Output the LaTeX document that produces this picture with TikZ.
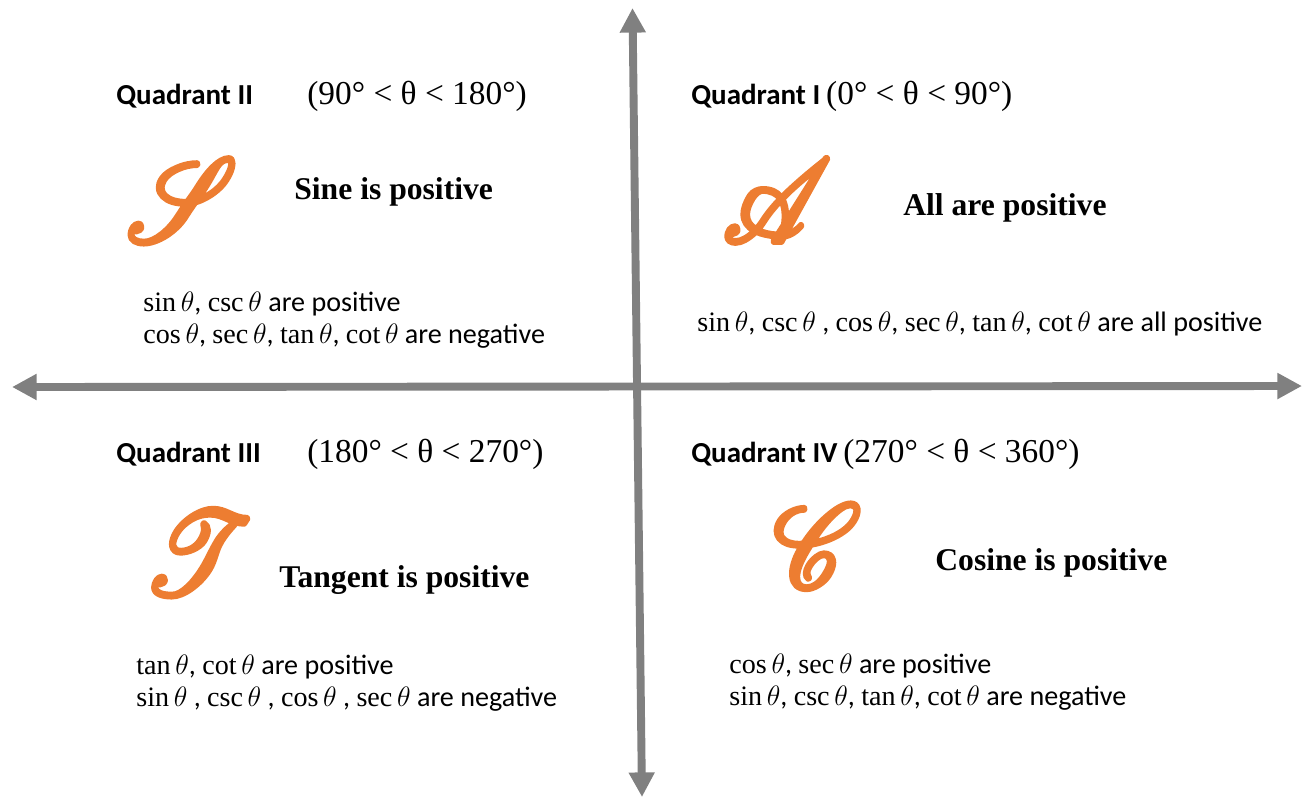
\RequirePackage{fix-cm}
\documentclass[tikz,border=0pt]{standalone}
\usepackage{graphicx}
\usepackage{fontspec}
\usepackage{mathrsfs}
\setmainfont{Liberation Serif}
\newfontfamily\calibri{Carlito}
\usetikzlibrary{arrows.meta,positioning}
\definecolor{axisgray}{RGB}{128,128,128}
\definecolor{letterorange}{RGB}{237,125,49}
% heavy swash capital: stroked as well as filled
\newcommand{\swash}[1]{\scalebox{2.4}[2.7]{\special{pdf:literal direct 2 Tr 1.1 w 1 j}$\mathscr{#1}$\special{pdf:literal direct 0 Tr}}}

\begin{document}
\begin{tikzpicture}[x=0.02cm, y=-0.02cm, >={Triangle[width=14pt,length=14pt]},
    quadtitle/.style={anchor=base west, inner sep=0pt, font=\calibri\bfseries\fontsize{16.5}{19}\selectfont},
    anglerange/.style={anchor=base west, inner sep=0pt, font=\fontsize{19}{23}\selectfont},
    bigletter/.style={text=letterorange, inner sep=0pt, font=\fontsize{24.88}{30}\selectfont},
    signrule/.style={anchor=base west, inner sep=0pt, font=\bfseries\fontsize{18}{22}\selectfont},
    fnline/.style={anchor=base west, inner sep=0pt, font=\calibri\fontsize{16}{19}\selectfont}]
    \useasboundingbox (0,0) rectangle (1303,799);

    % Axes
    \coordinate (west) at (12,387);
    \coordinate (east) at (1302,386);
    \coordinate (north) at (632.5,8);
    \coordinate (south) at (642,797);
    \draw[<->, axisgray, line width=4.5pt] (west) -- (east);
    \draw[<->, axisgray, line width=4.5pt] (north) -- (south);

    % Quadrant II
    \node (q2title) [quadtitle] at (116,104) {Quadrant II};
    \node (q2range) [anglerange] at (307,104) {(90° < θ < 180°)};
    \node (sletter) [bigletter] at (182,200) {\swash{S}};
    \node (q2rule) [signrule] at (294,199) {Sine is positive};
    \node (q2pos) [fnline] at (143,311) {$\sin\theta$, $\csc\theta$ are positive};
    \node (q2neg) [fnline] at (143,343) {$\cos\theta$, $\sec\theta$, $\tan\theta$, $\cot\theta$ are negative};

    % Quadrant I
    \node (q1title) [quadtitle] at (691,104) {Quadrant I};
    \node (q1range) [anglerange, xshift=3pt] at (q1title.base east) {(0° < θ < 90°)};
    \node (aletter) [bigletter] at (777,201) {\swash{A}};
    \node (q1rule) [signrule] at (903,215) {All are positive};
    \node (q1pos) [fnline] at (697,331) {$\sin\theta$, $\csc\theta$ , $\cos\theta$, $\sec\theta$, $\tan\theta$, $\cot\theta$ are all positive};

    % Quadrant III
    \node (q3title) [quadtitle] at (116,462) {Quadrant III};
    \node (q3range) [anglerange] at (307,462) {(180° < θ < 270°)};
    \node (tletter) [bigletter] at (198,553) {\swash{T}};
    \node (q3rule) [signrule] at (279,587) {Tangent is positive};
    \node (q3pos) [fnline] at (136,674) {$\tan\theta$, $\cot\theta$ are positive};
    \node (q3neg) [fnline] at (136,706) {$\sin\theta$ ,\ $\csc\theta$ ,\ $\cos\theta$ , $\sec\theta$ are negative};

    % Quadrant IV
    \node (q4title) [quadtitle] at (691,462) {Quadrant IV};
    \node (q4range) [anglerange, xshift=3pt] at (q4title.base east) {(270° < θ < 360°)};
    \node (cletter) [bigletter] at (817,546) {\swash{C}};
    \node (q4rule) [signrule] at (935,570) {Cosine is positive};
    \node (q4pos) [fnline] at (729,673) {$\cos\theta$, $\sec\theta$ are positive};
    \node (q4neg) [fnline] at (729,705) {$\sin\theta$, $\csc\theta$, $\tan\theta$, $\cot\theta$ are negative};
\end{tikzpicture}
\end{document}
